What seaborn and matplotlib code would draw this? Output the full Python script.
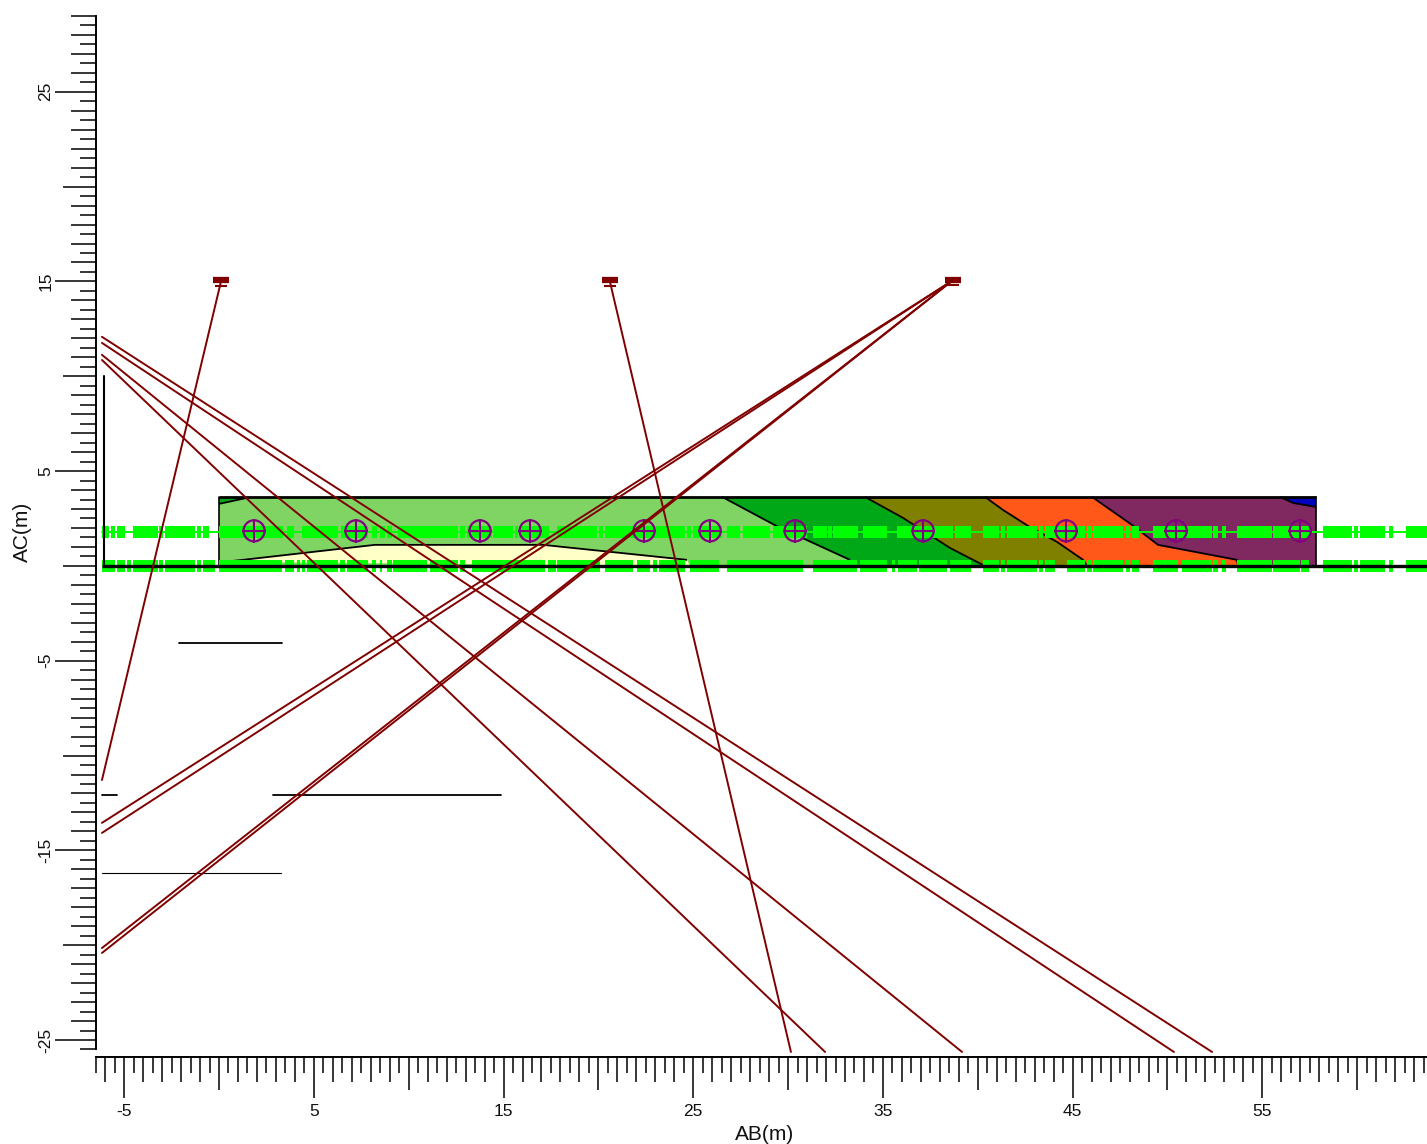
import numpy as np
import pandas as pd
import matplotlib
matplotlib.use("Agg")
import matplotlib.pyplot as plt
import seaborn as sns

sns.set_theme(style="white")
plt.rcParams["font.family"] = ["Liberation Sans", "DejaVu Sans"]

# ---- data (axis units, metres) ----
x_major = [-5, 5, 15, 25, 35, 45, 55]
y_major = [-25, -15, -5, 5, 15, 25]
x_label_text = ["-5", "5", "15", "25", "35", "45", "55"]
y_label_text = ["-25", "-15", "-5", "5", "15", "25"]

section_right = 57.83
section_top = 3.64

region_light = [(0, 0), (57.83, 0), (57.83, 3.64), (0, 3.64)]
region_corner = [(0, 3.64), (1.5, 3.64), (1.48, 3.59), (0, 3.27)]
line_yellow = [(0.21, 0.21), (1.27, 0.32), (8.22, 1.11), (17.08, 1.11), (24.67, 0.32), (24.83, 0)]
line_green = [(26.52, 3.64), (29.47, 2.06), (33.26, 0.32), (33.26, 0)]
line_olive = [(34.05, 3.64), (36.06, 2.53), (38.53, 0.95), (40.27, 0.05), (40.27, 0)]
line_orange = [(40.38, 3.64), (41.33, 2.95), (42.65, 2.11), (44.17, 1.27), (45.55, 0.32), (45.76, 0)]
line_purple = [(46.02, 3.64), (48.13, 2.16), (49.5, 1.11), (53.66, 0.32), (53.72, 0)]
line_blue = [(55.93, 3.64), (56.62, 3.32), (57.83, 3.11)]

receivers_x = [1.85, 7.22, 13.76, 16.4, 22.41, 25.89, 30.37, 37.12, 44.66, 50.46, 57.0]
receivers_y = [1.85] * 11

# ray start / end pairs
ray_x0 = [0.1, 20.61, 38.64, 38.64, 38.64, 38.64, -6.17, -6.17, -6.17, -6.17]
ray_y0 = [14.98, 14.98, 15.03, 15.03, 15.03, 15.03, 12.08, 11.76, 11.13, 10.86]
ray_x1 = [-6.17, 30.15, -6.17, -6.17, -6.17, -6.17, 52.35, 50.34, 39.17, 31.95]
ray_y1 = [-11.29, -25.63, -13.55, -14.08, -20.15, -20.41, -25.63, -25.63, -25.63, -25.63]

source_x = [0.12, 20.6, 38.7]
source_y = [15.05, 15.05, 15.1]

# green geophone clusters (start, end)
row_upper = [(-6.18, -5.78), (-5.71, -5.48), (-5.36, -4.95), (-4.52, -3.2), (-3.15, -2.97), (-2.85, -1.27),
             (-1.14, -0.97), (-0.83, -0.53), (0, 3.39), (3.57, 3.95), (4.36, 6.29), (6.41, 7.87), (8.05, 8.31),
             (8.49, 8.75), (8.84, 9.10), (9.43, 12.6), (12.7, 12.97), (13.07, 14.39), (14.44, 15.5), (15.6, 15.76),
             (15.8, 17.39), (17.82, 19.92), (20.03, 20.24), (20.35, 24.56), (24.67, 24.88), (24.98, 26.51),
             (26.78, 27.46), (27.62, 29.04), (29.2, 30.99), (31.31, 32.05), (32.1, 32.31), (32.36, 33.68),
             (33.94, 35.21), (35.74, 38.69), (38.79, 39.63), (40.27, 41.11), (41.22, 41.43), (41.53, 43.12),
             (43.22, 43.43), (43.54, 45.65), (45.75, 46.01), (46.07, 47.65), (47.8, 48.02), (48.12, 48.49),
             (49.23, 52.34), (52.39, 52.66), (52.87, 53.08), (53.66, 55.24), (55.27, 55.5), (55.56, 56.98),
             (57.03, 57.5), (58.19, 59.72), (59.82, 60.03), (60.14, 61.46), (61.67, 61.88), (62.57, 63.67)]
row_lower = [(-6.17, -5.48), (-5.38, -4.95), (-4.85, -4.64), (-4.53, -3.22), (-3.16, -2.95), (-2.85, -1.27),
             (-1.16, -0.95), (-0.84, -0.21), (0, 3.32), (3.48, 3.95), (4.11, 4.27), (4.37, 4.53), (4.64, 6.27),
             (6.38, 6.64), (6.75, 7.85), (8.06, 8.27), (8.49, 8.59), (8.85, 9.12), (9.17, 10.96), (11.12, 12.6),
             (12.7, 12.97), (13.33, 17.18), (17.34, 17.76), (17.82, 20.08), (20.35, 21.82), (22.03, 22.72),
             (22.87, 23.09), (23.19, 24.56), (24.82, 26.35), (26.78, 30.78), (31.31, 33.63), (33.79, 35.21),
             (35.47, 35.63), (35.79, 36.79), (36.9, 38.37), (38.53, 39.63), (40.27, 41.11), (41.22, 41.43),
             (41.53, 43.12), (43.22, 43.43), (43.54, 44.07), (44.7, 45.65), (45.75, 46.01), (46.07, 47.65),
             (47.8, 48.02), (48.12, 48.49), (49.23, 50.55), (50.76, 52.34), (52.39, 52.66), (52.87, 53.08),
             (53.66, 55.24), (55.27, 55.5), (55.56, 56.98), (57.03, 57.46), (58.19, 59.72), (59.82, 60.03),
             (60.14, 61.46), (61.67, 61.88), (62.57, 63.67)]
row_upper_y = 1.79
row_lower_y = 0.0
row_span = (-6.18, 63.67)

vertical_bar_x = -6.06
vertical_bar_y = (0, 10.02)
h_segments = [(-2.11, 3.32, -4.06), (-6.17, -5.38, -12.08), (2.85, 14.87, -12.08)]
thin_segment = (-6.17, 3.27, -16.19)

# ---- colours ----
C_LIGHT = "#80D464"
C_GREEN = "#00A818"
C_OLIVE = "#808000"
C_ORANGE = "#FF5818"
C_PURPLE = "#802860"
C_BLUE = "#0000C0"
C_YELLOW = "#FFFFC8"
C_RAY = "#800000"
C_LIME = "#00FF00"
C_MARK = "#800080"

fig = plt.figure(figsize=(14.27, 11.44), dpi=100)
W, H = 1427.0, 1144.0
ax = fig.add_axes([95.7 / W, (H - 1056.7) / H, 1331.3 / W, (1056.7 - 15) / H])
ax.set_xlim(-6.5, 63.68)
ax.set_ylim(-25.88, 29.05)


def band(left, right, color, z=1):
    pts = list(left) + list(reversed(right))
    ax.fill([p[0] for p in pts], [p[1] for p in pts], color=color, lw=0, zorder=z)


ax.fill([p[0] for p in region_light], [p[1] for p in region_light], color=C_LIGHT, lw=0, zorder=1)
ax.fill([p[0] for p in region_corner], [p[1] for p in region_corner], color=C_GREEN, lw=0, zorder=2)
ax.fill([p[0] for p in line_yellow], [p[1] for p in line_yellow], color=C_YELLOW, lw=0, zorder=2)
band(line_green, line_olive, C_GREEN, 2)
band(line_olive, line_orange, C_OLIVE, 2)
band(line_orange, line_purple, C_ORANGE, 2)
band(line_purple, [(55.93, 3.64), (57.83, 3.64), (57.83, 0)], C_PURPLE, 2)
ax.fill([55.93, 57.83, 57.83, 56.62], [3.64, 3.64, 3.11, 3.32], color=C_BLUE, lw=0, zorder=3)

for ln in (region_corner[2:], line_yellow[:5], line_green[:3], line_olive[:4], line_orange, line_purple, line_blue):
    ax.plot([p[0] for p in ln], [p[1] for p in ln], color="black", lw=1.3, zorder=4, solid_capstyle="butt")

# section outline
ax.plot([0, 0], [0, section_top], color="black", lw=1.2, zorder=4)
ax.plot([section_right, section_right], [0, section_top], color="black", lw=1.2, zorder=4)
ax.plot([0, section_right], [section_top, section_top], color="black", lw=2.0, zorder=4, solid_capstyle="butt")

# green geophone rows
ax.plot(row_span, [row_upper_y, row_upper_y], color=C_LIME, lw=1.4, zorder=5)
ax.broken_barh([(a, b - a) for a, b in row_upper], (row_upper_y - 0.32, 0.64), color=C_LIME, lw=0, zorder=5)
ax.broken_barh([(a, b - a) for a, b in row_lower], (row_lower_y - 0.32, 0.64), color=C_LIME, lw=0, zorder=5)

# black lines
ax.plot(row_span, [0, 0], color="black", lw=2.4, zorder=6, solid_capstyle="butt")
ax.plot([vertical_bar_x] * 2, vertical_bar_y, color="black", lw=1.5, zorder=6)
for a, b, y in h_segments:
    ax.plot([a, b], [y, y], color="black", lw=1.3, zorder=6)
ax.plot(thin_segment[:2], [thin_segment[2]] * 2, color="black", lw=0.8, zorder=6)

# receivers
rec = pd.DataFrame({"x": receivers_x, "y": receivers_y})
sns.scatterplot(data=rec, x="x", y="y", ax=ax, marker="o", s=230, facecolor="none",
                edgecolor=C_MARK, linewidth=1.6, zorder=7, legend=False)
ax.plot(receivers_x, receivers_y, ls="none", marker="+", ms=17, mew=1.5, color=C_MARK, zorder=7)

# rays
rays = pd.DataFrame({
    "x": ray_x0 + ray_x1,
    "y": ray_y0 + ray_y1,
    "ray": list(range(len(ray_x0))) * 2,
})
sns.lineplot(data=rays, x="x", y="y", units="ray", estimator=None, sort=False, ax=ax,
             color=C_RAY, lw=1.4, zorder=8, legend=False)
ax.plot(source_x, source_y, ls="none", marker="_", ms=11, mew=4.5, color=C_RAY, zorder=8)
ax.plot(source_x, [v - 0.27 for v in source_y], ls="none", marker="_", ms=9, mew=1.5, color=C_RAY, zorder=8)

# spines / ticks
for s in ("top", "right"):
    ax.spines[s].set_visible(False)
for s in ("left", "bottom"):
    ax.spines[s].set_visible(True)
    ax.spines[s].set_color("black")
    ax.spines[s].set_linewidth(1.4)
ax.spines["left"].set_bounds(-25.5, 29.0)

ax.set_xticks(x_major)
ax.set_xticklabels(x_label_text, fontsize=12.5, color="#111111")
ax.set_yticks(y_major)
ax.set_yticklabels(y_label_text, fontsize=12.5, color="#111111", rotation=90, va="center")
ax.tick_params(axis="both", which="major", direction="out", length=29.5, width=1.1, color="black",
               bottom=True, left=True)
ax.tick_params(axis="x", which="major", pad=4.5)
ax.tick_params(axis="y", which="major", pad=1)

px = 0.72
x_minor = np.arange(-6.5, 63.6, 0.5)
x_minor = x_minor[~np.isin(x_minor, x_major)]
y_minor = np.arange(-25.5, 29.1, 0.5)
y_minor = y_minor[~np.isin(y_minor, y_major)]
ax.set_xticks(x_minor, minor=True)
ax.set_yticks(y_minor, minor=True)
ax.tick_params(axis="both", which="minor", direction="out", width=1.1, color="black", bottom=True, left=True)


def size_ticks(ticks, values):
    for t, v in zip(ticks, values):
        if abs(v % 5) < 1e-9:
            size = 33
        elif abs(v % 1) < 1e-9:
            size = 25
        else:
            size = 16
        t.tick1line.set_markersize(size * px)


size_ticks(ax.xaxis.get_minor_ticks(), x_minor)
size_ticks(ax.yaxis.get_minor_ticks(), y_minor)

ax.set_xlabel("AB(m)", fontsize=15, color="#111111")
ax.set_ylabel("AC(m)", fontsize=15, color="#111111")
ax.xaxis.set_label_coords(0.5026, -0.0655)
ax.yaxis.set_label_coords(-0.0477, 0.5037)
ax.grid(False)

fig.savefig("out.png", dpi=100, facecolor="white")
